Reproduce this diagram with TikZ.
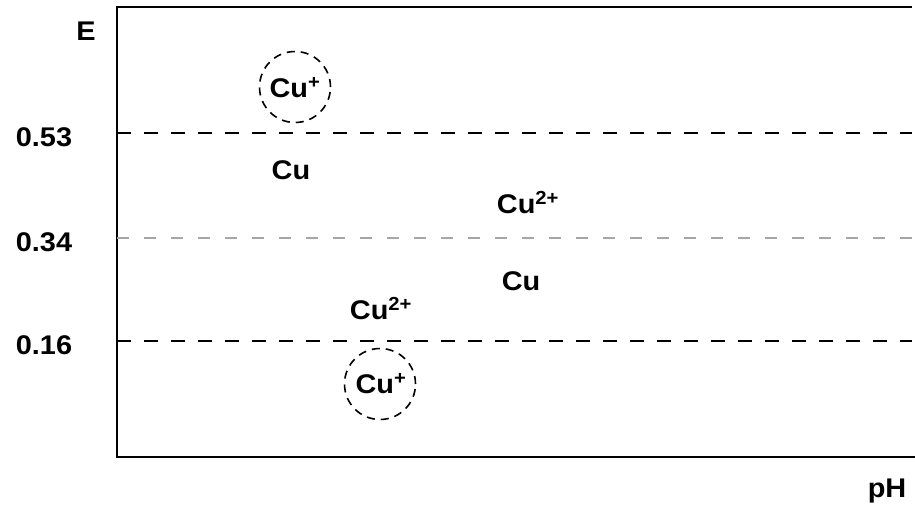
\documentclass[tikz,border=0pt]{standalone}
\usepackage{fontspec}
\setmainfont{Liberation Sans}[FakeStretch=1.07]
\begin{document}
\begin{tikzpicture}[x=1pt,y=-1pt,
  lbl/.style={font=\fontsize{27}{30}\selectfont\bfseries, inner sep=0pt},
  frameline/.style={line width=2.5pt},
  levelline/.style={line width=2.6pt, dash pattern=on 14pt off 13pt},
  faintline/.style={line width=2pt, gray!70, dash pattern=on 12pt off 15pt},
  ring/.style={draw, circle, line width=1.6pt, dash pattern=on 8pt off 6pt, minimum size=71pt, inner sep=0pt}]
\useasboundingbox (0,0) rectangle (915,506);
% frame
\coordinate (tl) at (117,7);
\coordinate (tr) at (912,7);
\coordinate (bl) at (117,457);
\coordinate (br) at (915,457);
\draw[frameline] (tr) -- (tl) -- (bl) -- (br);
% level lines
\coordinate (a1) at (117,133);
\coordinate (a2) at (912,133);
\coordinate (b1) at (117,238);
\coordinate (b2) at (912,238);
\coordinate (c1) at (117,341);
\coordinate (c2) at (912,341);
\draw[levelline] (a1) -- (a2);
\draw[faintline] (b1) -- (b2);
\draw[levelline] (c1) -- (c2);
% axis labels
\node[lbl] (E) at (86,31) {E};
\node[lbl] (pH) at (887,491) {pH};
\node[lbl] (v53) at (44,137.5) {0.53};
\node[lbl] (v34) at (44,242) {0.34};
\node[lbl] (v16) at (44,345) {0.16};
% species
\node[ring] (r1) at (295,87) {};
\node[lbl] (cu1) at (295,88) {Cu\textsuperscript{+}};
\node[lbl] (cu2) at (291,170) {Cu};
\node[lbl] (cu3) at (528,203) {Cu\textsuperscript{2+}};
\node[lbl] (cu4) at (521,281) {Cu};
\node[lbl] (cu5) at (381,309) {Cu\textsuperscript{2+}};
\node[ring] (r2) at (380,384) {};
\node[lbl] (cu6) at (381,384) {Cu\textsuperscript{+}};
\end{tikzpicture}
\end{document}
